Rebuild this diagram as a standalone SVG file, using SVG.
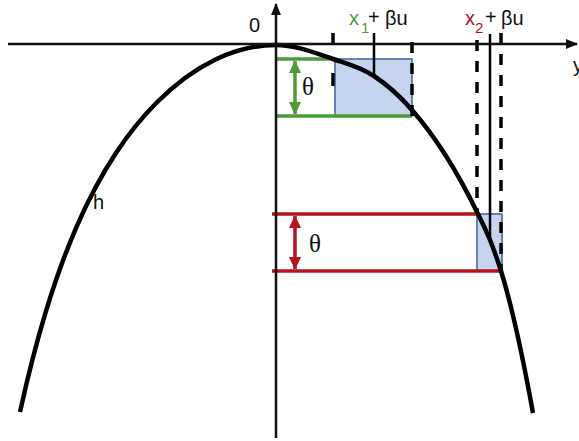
<svg xmlns="http://www.w3.org/2000/svg" width="579" height="441" viewBox="0 0 579 441">
<style>
.axis{stroke:#111;stroke-width:2.5;fill:none}
.curve{stroke:#000;stroke-width:4.5;fill:none}
.box{fill:#c7d4ee;stroke:#4a67a5;stroke-width:1.6}
.g{stroke:#4d9b3a;stroke-width:3.5;fill:none}
.r{stroke:#b7121d;stroke-width:3.5;fill:none}
.dash{stroke:#000;stroke-width:3.5;fill:none;stroke-dasharray:11 10}
.solid{stroke:#000;stroke-width:2.5;fill:none}
.lbl{font-family:"Liberation Sans",Arial,sans-serif;font-size:20px;fill:#111}
.th{font-family:"Liberation Serif","Times New Roman",serif;font-size:25px;fill:#111}
</style>
<defs>
<marker id="ag" markerUnits="userSpaceOnUse" markerWidth="13" markerHeight="12" refX="12" refY="6" orient="auto-start-reverse"><path d="M0,0 L13,6 L0,12 z" fill="#4d9b3a"/></marker>
<marker id="ar" markerUnits="userSpaceOnUse" markerWidth="13" markerHeight="12" refX="12" refY="6" orient="auto-start-reverse"><path d="M0,0 L13,6 L0,12 z" fill="#b7121d"/></marker>
<marker id="ak" markerUnits="userSpaceOnUse" markerWidth="12" markerHeight="10" refX="11" refY="5" orient="auto"><path d="M0,0 L12,5 L0,10 z" fill="#111"/></marker>
</defs>

<g id="box1"><rect class="box" x="335" y="59" width="77" height="57"/></g>
<g id="box2"><rect class="box" x="477" y="214" width="25" height="57"/></g>

<g id="connectors">
<line class="g" x1="276" y1="59" x2="335" y2="59"/>
<line class="g" x1="276" y1="116" x2="412" y2="116"/>
<line class="g" x1="295" y1="61" x2="295" y2="114" marker-start="url(#ag)" marker-end="url(#ag)" stroke-width="3"/>
<line class="r" x1="272" y1="214" x2="477" y2="214"/>
<line class="r" x1="272" y1="271" x2="502" y2="271"/>
<line class="r" x1="295" y1="216" x2="295" y2="269" marker-start="url(#ar)" marker-end="url(#ar)" stroke-width="3"/>

<path class="dash" d="M333,33 V86" style="stroke-dasharray:11 29 13 100"/>
<line class="solid" x1="374" y1="33" x2="374" y2="76"/>
<line class="dash" x1="412" y1="42" x2="412" y2="116"/>
<line class="dash" x1="477" y1="40" x2="477" y2="212"/>
<line class="solid" x1="490" y1="34" x2="490" y2="240"/>
<line class="dash" x1="501" y1="33" x2="501" y2="270"/>

<path class="curve" d="M20,411.9 C28.67,372.5 37.33,339.6 46,311.1 C56,278.2 66,251.2 76,228.05 C89.33,197.2 102.67,173.1 116,152.97 C129.33,132.85 142.67,116.74 156,103.29 C176,83.11 196,68.87 216,59.31 C236,49.75 256,45 276,45 C295,45 314,52.5 333,59 C346.67,63.7 360.33,67 374,76 C386.67,84.35 399.33,95.56 412,110 C433.67,134.7 455.33,167.6 477,212 C481.33,220.9 485.67,229.2 490,240 C493.67,249.2 497.33,259.2 501,271 C511.67,305.2 522.33,354.3 533,413"/>

<line class="axis" x1="8" y1="44" x2="577" y2="44" marker-end="url(#ak)"/>
<line class="axis" x1="276" y1="438" x2="276" y2="4" marker-end="url(#ak)"/>
</g>

<g id="labels">
<text class="lbl" x="249" y="32">0</text>
<text class="lbl" x="573" y="72">y</text>
<text class="lbl" x="93" y="209">h</text>
<text class="th" x="302" y="95">θ</text>
<text class="th" x="309" y="252">θ</text>
<text class="lbl" x="349" y="25"><tspan fill="#4d9b3a">x</tspan><tspan fill="#4d9b3a" font-size="15" x="361" y="33">1</tspan><tspan x="368" y="24">+</tspan><tspan x="385" y="25">βu</tspan></text>
<text class="lbl" x="465" y="25"><tspan fill="#b7121d">x</tspan><tspan fill="#b7121d" font-size="15" x="475" y="33">2</tspan><tspan x="485" y="24">+</tspan><tspan x="501" y="25">βu</tspan></text>
</g>
</svg>
